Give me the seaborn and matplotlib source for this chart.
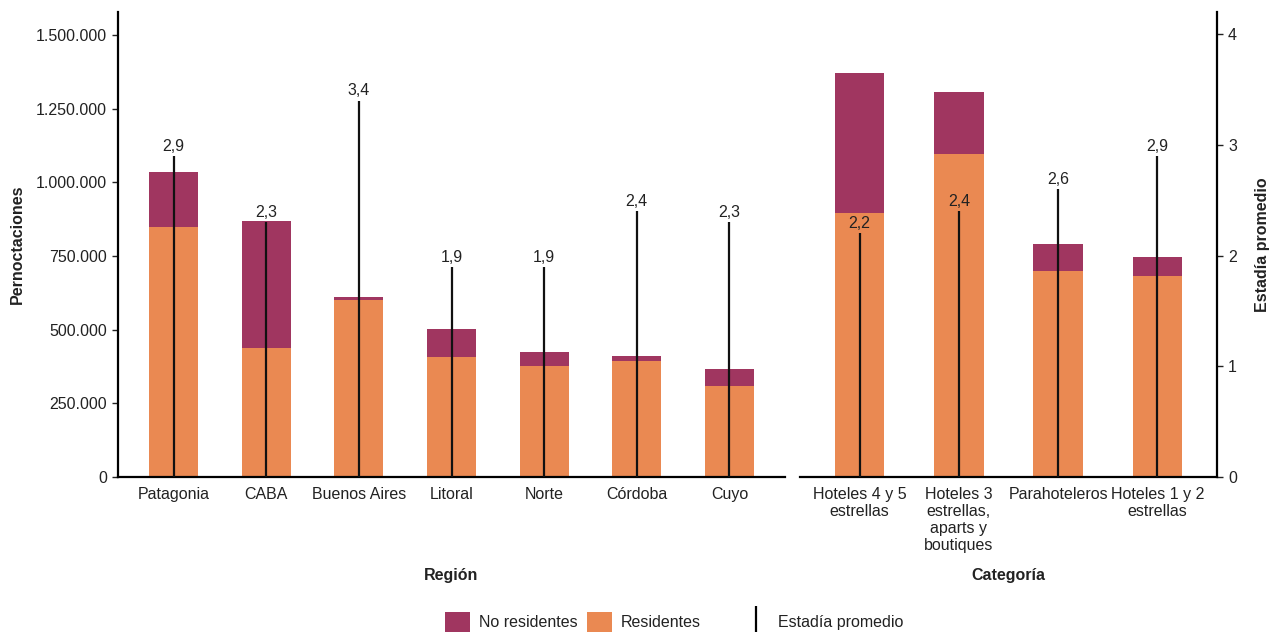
import matplotlib
matplotlib.use('Agg')
import matplotlib.pyplot as plt
import seaborn as sns
import pandas as pd
from matplotlib.patches import Patch
from matplotlib.lines import Line2D
from matplotlib.ticker import FuncFormatter, FixedLocator

# ---------------- data ----------------
regiones = ["Patagonia", "CABA", "Buenos Aires", "Litoral", "Norte", "Córdoba", "Cuyo"]
reg_residentes = [848000, 438000, 601000, 407000, 377000, 394000, 309000]
reg_no_residentes = [187000, 431000, 10000, 95000, 47000, 17000, 58000]
reg_estadia = [2.9, 2.3, 3.4, 1.9, 1.9, 2.4, 2.3]

categorias = ["Hoteles 4 y 5\nestrellas", "Hoteles 3\nestrellas,\naparts y\nboutiques",
              "Parahoteleros", "Hoteles 1 y 2\nestrellas"]
cat_residentes = [896000, 1096000, 699000, 682000]
cat_no_residentes = [475000, 211000, 92000, 65000]
cat_estadia = [2.2, 2.4, 2.6, 2.9]

left_ticks = [0, 250000, 500000, 750000, 1000000, 1250000, 1500000]
right_ticks = [0, 1, 2, 3, 4]

PLUM = "#A03660"
ORANGE = "#EA8952"
TXT = "#222222"
FS = 11.5

sns.set_theme(style="white")
plt.rcParams['font.family'] = ['Liberation Sans', 'DejaVu Sans']
plt.rcParams['font.size'] = FS
plt.rcParams['text.color'] = TXT
plt.rcParams['axes.labelcolor'] = TXT
plt.rcParams['xtick.color'] = TXT
plt.rcParams['ytick.color'] = TXT

W, H = 1269, 632
fig = plt.figure(figsize=(W / 100, H / 100), dpi=100)
bottom = 1 - 477 / H
top = 1 - 12 / H
axL = fig.add_axes([118 / W, bottom, (785 - 118) / W, top - bottom])
axR = fig.add_axes([800 / W, bottom, (1217 - 800) / W, top - bottom])

YMAX_L = 1578000
YMAX_R = 4.2


def fmt_miles(v, pos):
    return f"{int(round(v)):,}".replace(",", ".")


def panel(ax, cats, res, nores, est, width, xlim):
    df = pd.DataFrame({"cat": cats, "res": res,
                       "tot": [r + n for r, n in zip(res, nores)]})
    sns.barplot(data=df, x="cat", y="tot", order=cats, color=PLUM, saturation=1,
                width=width, linewidth=0, ax=ax)
    sns.barplot(data=df, x="cat", y="res", order=cats, color=ORANGE, saturation=1,
                width=width, linewidth=0, ax=ax)
    ax.set_xlim(*xlim)
    ax.set_ylim(0, YMAX_L)
    ax.set_ylabel("")
    ax.tick_params(axis="x", length=0, pad=7, labelsize=FS)
    for lab in ax.get_xticklabels():
        lab.set_linespacing(1.17)
    ax2 = ax.twinx()
    ax2.set_ylim(0, YMAX_R)
    xs = list(range(len(cats)))
    ax2.vlines(xs, 0, est, color="#111111", lw=1.6)
    for x, v in zip(xs, est):
        ax2.annotate(f"{v:.1f}".replace(".", ","), (x, v), xytext=(0, 1.5),
                     textcoords="offset points", ha="center", va="bottom",
                     fontsize=FS, color=TXT)
    for s in ["top", "right", "left", "bottom"]:
        ax.spines[s].set_visible(False)
        ax2.spines[s].set_visible(False)
    ax.spines["bottom"].set_visible(True)
    ax.spines["bottom"].set_linewidth(1.6)
    ax.spines["bottom"].set_color("black")
    return ax2


a2L = panel(axL, regiones, reg_residentes, reg_no_residentes, reg_estadia, 0.53, (-0.6, 6.6))
a2R = panel(axR, categorias, cat_residentes, cat_no_residentes, cat_estadia, 0.5, (-0.6, 3.6))

# left y axis
axL.spines["left"].set_visible(True)
axL.spines["left"].set_linewidth(1.6)
axL.spines["left"].set_color("black")
axL.yaxis.set_major_locator(FixedLocator(left_ticks))
axL.yaxis.set_major_formatter(FuncFormatter(fmt_miles))
axL.tick_params(axis="y", left=True, length=4, width=1, pad=4, labelsize=FS)
axL.set_ylabel("Pernoctaciones", fontweight="bold", fontsize=FS, labelpad=8)
a2L.set_yticks([])

# right panel
axR.set_yticks([])
a2R.spines["right"].set_visible(True)
a2R.spines["right"].set_linewidth(1.6)
a2R.spines["right"].set_color("black")
a2R.yaxis.set_major_locator(FixedLocator(right_ticks))
a2R.tick_params(axis="y", right=True, length=4, width=1, pad=4, labelsize=FS)
a2R.set_ylabel("Estadía promedio", fontweight="bold", fontsize=FS, labelpad=13)

# x labels
axL.set_xlabel("Región", fontweight="bold", fontsize=FS)
axR.set_xlabel("Categoría", fontweight="bold", fontsize=FS)
ylab = -(568 - 477) / (477 - 12)
axL.xaxis.set_label_coords(0.5, ylab)
axR.xaxis.set_label_coords(0.5, ylab)

# legend
h1 = [Patch(facecolor=PLUM, edgecolor="none", label="No residentes"),
      Patch(facecolor=ORANGE, edgecolor="none", label="Residentes")]
leg1 = fig.legend(handles=h1, loc="center left", bbox_to_anchor=(445 / W, 1 - 622 / H),
                  ncol=2, frameon=False, borderpad=0, borderaxespad=0,
                  handlelength=1.55, handleheight=1.55, handletextpad=0.55,
                  columnspacing=0.6, fontsize=FS)
h2 = [Line2D([], [], color="black", marker="|", linestyle="None", markersize=20,
             markeredgewidth=1.6, label="Estadía promedio")]
leg2 = fig.legend(handles=h2, loc="center left", bbox_to_anchor=(744 / W, 1 - 622 / H),
                  frameon=False, borderpad=0, borderaxespad=0,
                  handlelength=1.55, handleheight=1.55, handletextpad=0.55, fontsize=FS)

fig.savefig("out.png", dpi=100)
